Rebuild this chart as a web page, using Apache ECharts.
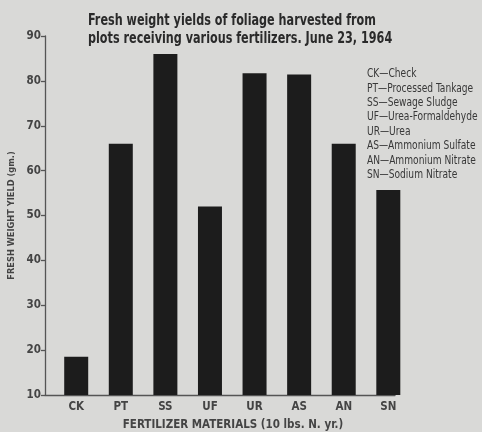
<!DOCTYPE html>
<html>
<head>
<meta charset="utf-8">
<script src="https://cdn.jsdelivr.net/npm/echarts@6/dist/echarts.min.js"></script>
<style>
html,body{margin:0;padding:0;background:#d9d9d7;}
#chart{width:482px;height:432px;}
</style>
</head>
<body>
<div id="chart"></div>
<script>
const categories = ['CK','PT','SS','UF','UR','AS','AN','SN'];
const yields = [18.5, 66, 86, 52, 81.7, 81.4, 66, 55.7];
const yTicks = {min: 10, max: 90, interval: 10};
const titleLines = ['Fresh weight yields of foliage harvested from', 'plots receiving various fertilizers. June 23, 1964'];
const keyLines = ['CK\u2014Check','PT\u2014Processed Tankage','SS\u2014Sewage Sludge','UF\u2014Urea-Formaldehyde','UR\u2014Urea','AS\u2014Ammonium Sulfate','AN\u2014Ammonium Nitrate','SN\u2014Sodium Nitrate'];
const xName = 'FERTILIZER MATERIALS (10 lbs. N. yr.)';
const yName = 'FRESH WEIGHT YIELD (gm.)';

const FONT = '"DejaVu Sans Condensed","Liberation Sans Narrow",sans-serif';
const chart = echarts.init(document.getElementById('chart'), null, {renderer:'canvas'});
chart.setOption({
  backgroundColor: '#d9d9d7',
  animation: false,
  graphic: [{
    type: 'text', left: 88, top: 12, scaleX: 0.755,
    style: {text: titleLines.join('\n'), fontFamily: FONT, fontSize: 16.5, fontWeight: 'bold',
            fill: '#2a2a2a', lineHeight: 17.5}
  }, {
    type: 'text', left: 367, top: 67, scaleX: 0.88,
    style: {text: keyLines.join('\n'), fontFamily: FONT, fontSize: 11.5, fontWeight: 'normal',
            fill: '#383838', lineHeight: 14.4}
  }],
  grid: {left: 45, right: 87, top: 36, bottom: 37, outerBoundsMode: 'none', containLabel: false},
  xAxis: {
    type: 'value', min: -0.7, max: 7.15,
    splitLine: {show: false},
    axisLine: {show: true, onZero: false, lineStyle: {color: '#555', width: 1.3}},
    axisTick: {show: false},
    axisLabel: {
      customValues: categories.map((c, i) => i),
      formatter: v => categories[Math.round(v)],
      fontFamily: FONT, fontSize: 11.5, fontWeight: 'bold', color: '#444', margin: 6
    },
    name: xName, nameLocation: 'middle', nameGap: 24,
    nameTextStyle: {fontFamily: FONT, fontSize: 11.5, fontWeight: 'bold', color: '#444', padding: [0,0,0,26]}
  },
  yAxis: {
    type: 'value', min: yTicks.min, max: yTicks.max, interval: yTicks.interval,
    splitLine: {show: false},
    axisLine: {show: true, onZero: false, lineStyle: {color: '#555', width: 1.3}},
    axisTick: {show: true, length: 4, lineStyle: {color: '#555', width: 1.3}},
    axisLabel: {fontFamily: FONT, fontSize: 11.5, fontWeight: 'bold', color: '#444', margin: 4},
    name: yName, nameLocation: 'middle', nameGap: 27,
    nameTextStyle: {fontFamily: FONT, fontSize: 9.2, fontWeight: 'bold', color: '#444'}
  },
  series: [{
    type: 'bar',
    data: yields.map((v, i) => [i, v]),
    barWidth: 24,
    itemStyle: {color: '#1c1c1c'}
  }]
});
</script>
</body>
</html>
